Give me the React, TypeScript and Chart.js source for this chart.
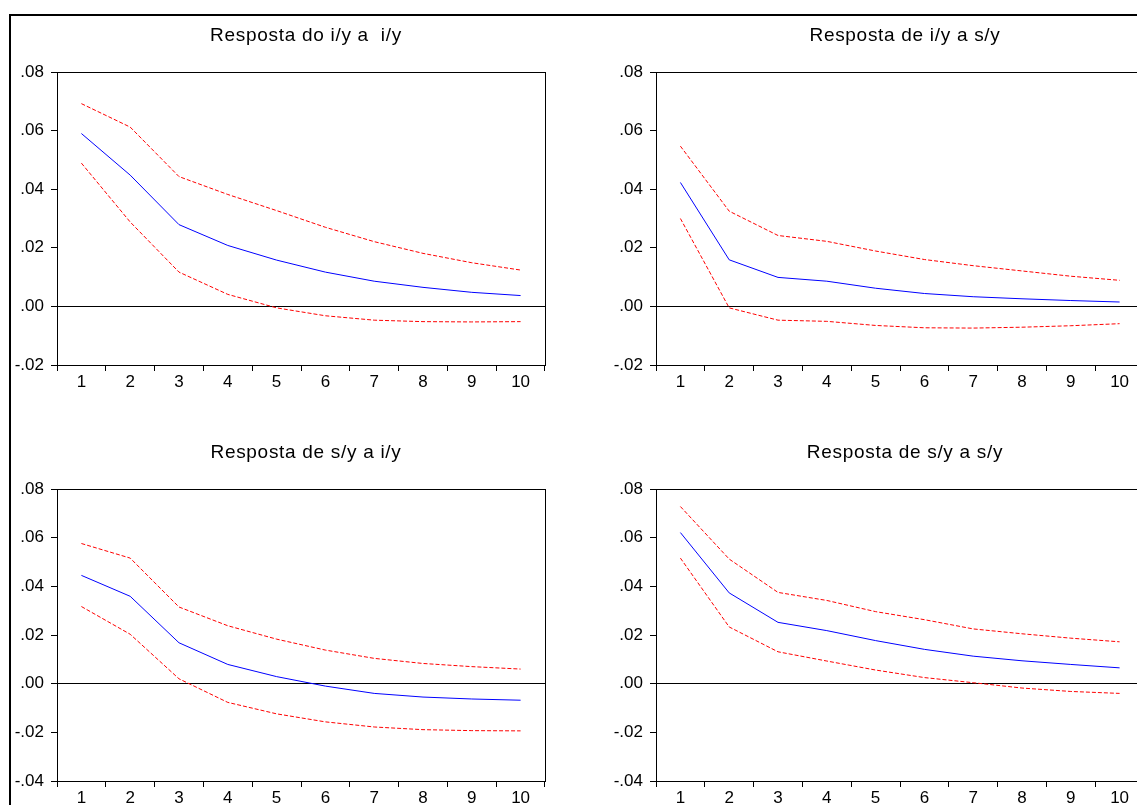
import React, { useEffect, useRef } from 'react';
import { Chart, registerables } from 'chart.js';

Chart.register(...registerables);

// ---------- data ----------
const periods = ['1', '2', '3', '4', '5', '6', '7', '8', '9', '10'];

const titleIyIy = 'Resposta do i/y a  i/y';
const titleIySy = 'Resposta de i/y a s/y';
const titleSyIy = 'Resposta de s/y a i/y';
const titleSySy = 'Resposta de s/y a s/y';

const iyIyResp = [0.059, 0.0448, 0.0279, 0.0208, 0.0158, 0.0117, 0.0086, 0.0065, 0.0048, 0.0037];
const iyIyUpper = [0.0692, 0.0612, 0.0443, 0.0382, 0.0327, 0.027, 0.0221, 0.0181, 0.0149, 0.0124];
const iyIyLower = [0.0489, 0.0288, 0.0117, 0.0041, -0.0005, -0.0032, -0.0047, -0.0052, -0.0053, -0.0052];

const iySyResp = [0.0423, 0.0159, 0.0099, 0.0086, 0.0062, 0.0044, 0.0033, 0.0026, 0.002, 0.0015];
const iySyUpper = [0.0547, 0.0325, 0.0242, 0.0222, 0.0189, 0.016, 0.0139, 0.0121, 0.0103, 0.0089];
const iySyLower = [0.03, -0.0005, -0.0047, -0.0051, -0.0065, -0.0073, -0.0074, -0.0071, -0.0066, -0.0059];

const syIyResp = [0.0445, 0.0359, 0.0168, 0.0079, 0.0029, -0.001, -0.004, -0.0055, -0.0063, -0.0068];
const syIyUpper = [0.0576, 0.0516, 0.0315, 0.0238, 0.0183, 0.0138, 0.0104, 0.0083, 0.007, 0.006];
const syIyLower = [0.0317, 0.0203, 0.002, -0.0077, -0.0124, -0.0157, -0.0178, -0.0189, -0.0193, -0.0194];

const sySyResp = [0.0621, 0.0373, 0.0252, 0.0218, 0.0177, 0.0141, 0.0113, 0.0094, 0.0079, 0.0065];
const sySyUpper = [0.0728, 0.0512, 0.0375, 0.0342, 0.0296, 0.0263, 0.0225, 0.0205, 0.0187, 0.0172];
const sySyLower = [0.0516, 0.0233, 0.0131, 0.0093, 0.0056, 0.0025, 0.0004, -0.0018, -0.0032, -0.004];

const topYMin = -0.02;
const topYMax = 0.08;
const bottomYMin = -0.04;
const bottomYMax = 0.08;
const yStep = 0.02;

// ---------- styling ----------
const FONT = '"Liberation Sans", Arial, sans-serif';

const frameTitlePlugin = {
  id: 'frameTitle',
  afterDraw(chart: any, _args: any, opts: any) {
    const { ctx, chartArea: a } = chart;
    ctx.save();
    ctx.strokeStyle = '#000';
    ctx.lineWidth = 1;
    const l = Math.round(a.left) + 0.5;
    const t = Math.round(a.top) + 0.5;
    const r = Math.round(a.right) + 0.5;
    const b = Math.round(a.bottom) + 0.5;
    ctx.strokeRect(l, t, r - l, b - t);
    ctx.font = `19px ${FONT}`;
    try {
      (ctx as any).letterSpacing = '0.7px';
    } catch (e) {}
    ctx.fillStyle = '#000';
    ctx.textAlign = 'center';
    ctx.textBaseline = 'alphabetic';
    ctx.fillText(opts.text, (a.left + a.right) / 2 + 5, opts.baseline);
    ctx.restore();
  },
};

function fmtTick(v: number) {
  const s = Math.abs(v).toFixed(2).replace(/^0/, '');
  return v < -1e-9 ? '-' + s : s;
}

type PanelProps = {
  title: string;
  resp: number[];
  upper: number[];
  lower: number[];
  yMin: number;
  yMax: number;
  left: number;
  top: number;
  padTop: number;
  areaHeight: number;
  titleBaseline: number;
};

const Y_WIDTH = 57;
const AREA_WIDTH = 488;
const PAD_RIGHT = 24;
const X_HEIGHT = 34;

function Panel(p: PanelProps) {
  const ref = useRef<HTMLCanvasElement>(null);
  const width = Y_WIDTH + AREA_WIDTH + PAD_RIGHT;
  const height = p.padTop + p.areaHeight + X_HEIGHT;

  useEffect(() => {
    if (!ref.current) return;
    const chart = new Chart(ref.current, {
      type: 'line',
      data: {
        labels: periods,
        datasets: [
          {
            data: p.upper,
            borderColor: '#ff0000',
            borderWidth: 1,
            borderDash: [4, 2],
            pointRadius: 0,
            tension: 0,
            fill: false,
          },
          {
            data: p.resp,
            borderColor: '#0000ff',
            borderWidth: 1,
            pointRadius: 0,
            tension: 0,
            fill: false,
          },
          {
            data: p.lower,
            borderColor: '#ff0000',
            borderWidth: 1,
            borderDash: [4, 2],
            pointRadius: 0,
            tension: 0,
            fill: false,
          },
        ],
      },
      options: {
        animation: false,
        responsive: false,
        maintainAspectRatio: false,
        devicePixelRatio: 1,
        layout: { padding: { top: p.padTop, right: PAD_RIGHT, left: 0, bottom: 0 } },
        plugins: {
          legend: { display: false },
          tooltip: { enabled: false },
          title: { display: false },
          frameTitle: { text: p.title, baseline: p.titleBaseline },
        } as any,
        scales: {
          x: {
            type: 'category',
            offset: true,
            border: { display: false },
            grid: {
              offset: true,
              drawOnChartArea: false,
              drawTicks: true,
              tickLength: 6,
              tickColor: '#000',
              lineWidth: 1,
            },
            ticks: {
              color: '#000',
              font: { family: FONT, size: 17 },
              padding: 1,
              maxRotation: 0,
              autoSkip: false,
            },
            afterFit(scale: any) {
              scale.height = X_HEIGHT;
            },
          },
          y: {
            min: p.yMin,
            max: p.yMax,
            border: { display: false },
            grid: {
              drawOnChartArea: true,
              drawTicks: true,
              tickLength: 6,
              tickColor: '#000',
              color: (c: any) => (c.tick && Math.abs(c.tick.value) < 1e-9 ? '#000' : 'rgba(0,0,0,0)'),
              lineWidth: 1,
            },
            ticks: {
              stepSize: yStep,
              color: '#000',
              font: { family: FONT, size: 17 },
              padding: 7,
              callback: (v: any) => fmtTick(Number(v)),
            },
            afterFit(scale: any) {
              scale.width = Y_WIDTH;
            },
          },
        },
      },
      plugins: [frameTitlePlugin as any],
    });
    return () => chart.destroy();
  }, []);

  return (
    <canvas
      ref={ref}
      width={width}
      height={height}
      style={{ position: 'absolute', left: p.left, top: p.top, width, height, display: 'block' }}
    />
  );
}

export default function App() {
  return (
    <div
      style={{
        position: 'fixed',
        left: 0,
        top: 0,
        width: 1137,
        height: 805,
        overflow: 'hidden',
        background: '#fff',
      }}
    >
      <div
        style={{
          position: 'absolute',
          left: 9,
          top: 14,
          width: 2000,
          height: 2000,
          borderTop: '2px solid #000',
          borderLeft: '2px solid #000',
          boxSizing: 'border-box',
        }}
      />
      <Panel title={titleIyIy} resp={iyIyResp} upper={iyIyUpper} lower={iyIyLower}
        yMin={topYMin} yMax={topYMax} left={0} top={0} padTop={72} areaHeight={293} titleBaseline={41} />
      <Panel title={titleIySy} resp={iySyResp} upper={iySyUpper} lower={iySyLower}
        yMin={topYMin} yMax={topYMax} left={599} top={0} padTop={72} areaHeight={293} titleBaseline={41} />
      <Panel title={titleSyIy} resp={syIyResp} upper={syIyUpper} lower={syIyLower}
        yMin={bottomYMin} yMax={bottomYMax} left={0} top={400} padTop={89} areaHeight={292} titleBaseline={58} />
      <Panel title={titleSySy} resp={sySyResp} upper={sySyUpper} lower={sySyLower}
        yMin={bottomYMin} yMax={bottomYMax} left={599} top={400} padTop={89} areaHeight={292} titleBaseline={58} />
    </div>
  );
}
